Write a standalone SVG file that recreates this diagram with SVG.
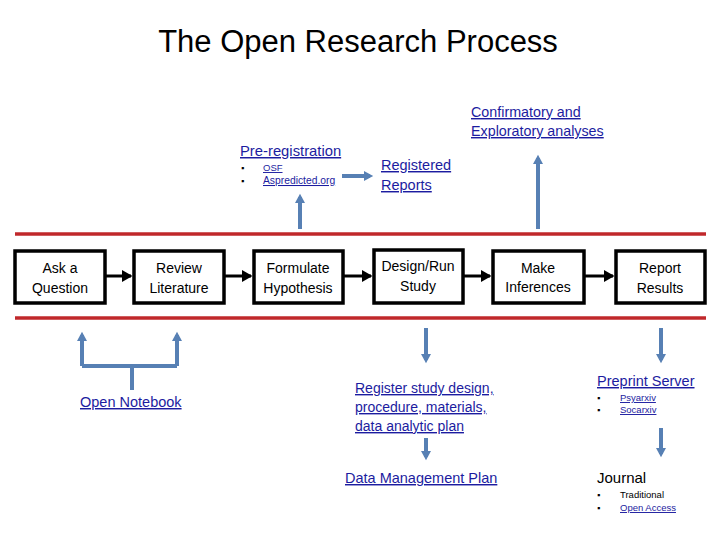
<svg xmlns="http://www.w3.org/2000/svg" width="720" height="540" viewBox="0 0 720 540">
<defs>
<style>
text{font-family:"Liberation Sans","Noto Sans",Arial,sans-serif;}
.box{fill:#fff;stroke:#000;stroke-width:3.5;}
.bt{font-size:14px;fill:#000;text-anchor:middle;}
.lnk{fill:#1c1ca0;text-decoration:underline;}
.blk{fill:#000;}
.red{stroke:#c0282b;stroke-width:3.5;}
.ba{stroke:#000;stroke-width:3;fill:none;marker-end:url(#ah);}
.bl{stroke:#5780b4;stroke-width:4;fill:none;}
.bla{stroke:#5780b4;stroke-width:4;fill:none;marker-end:url(#bh);}
</style>
<marker id="ah" markerWidth="4" markerHeight="4" refX="3" refY="2" orient="auto" markerUnits="strokeWidth"><path d="M0,0 L3.5,2 L0,4 z" fill="#000"/></marker>
<marker id="bh" markerWidth="4" markerHeight="4" refX="1.5" refY="2" orient="auto" markerUnits="strokeWidth"><path d="M0,0.75 L2.3,2 L0,3.25 z" fill="#5780b4"/></marker>
</defs>
<rect width="720" height="540" fill="#fff"/>
<text x="358" y="52" font-size="31" text-anchor="middle" fill="#000">The Open Research Process</text>

<g id="bands">
<line class="red" x1="15" y1="234" x2="706" y2="234"/>
<line class="red" x1="15" y1="318" x2="706" y2="318"/>
</g>

<g id="connectors">
<line class="ba" x1="105" y1="276" x2="131" y2="276"/>
<line class="ba" x1="224" y1="276" x2="251" y2="276"/>
<line class="ba" x1="343" y1="276" x2="371" y2="276"/>
<line class="ba" x1="463" y1="276" x2="490" y2="276"/>
<line class="ba" x1="584" y1="276" x2="613" y2="276"/>
<line class="bla" x1="300" y1="229" x2="300" y2="197"/>
<line class="bla" x1="342" y1="176" x2="370" y2="176"/>
<line class="bla" x1="538" y1="229" x2="538" y2="158"/>
<path class="bl" d="M132,390 V366 M82,366 H177"/>
<line class="bla" x1="82" y1="366" x2="82" y2="335"/>
<line class="bla" x1="177" y1="366" x2="177" y2="335"/>
<line class="bla" x1="426" y1="328" x2="426" y2="360"/>
<line class="bla" x1="661" y1="328" x2="661" y2="360"/>
<line class="bla" x1="426" y1="438" x2="426" y2="457"/>
<line class="bla" x1="661" y1="428" x2="661" y2="454"/>
</g>

<g id="ask"><rect class="box" x="15" y="251" width="90" height="52"/><text class="bt" x="60" y="273">Ask a</text><text class="bt" x="60" y="293">Question</text></g>
<g id="review"><rect class="box" x="134" y="251" width="90" height="52"/><text class="bt" x="179" y="273">Review</text><text class="bt" x="179" y="293">Literature</text></g>
<g id="formulate"><rect class="box" x="254" y="251" width="89" height="52"/><text class="bt" x="298" y="273">Formulate</text><text class="bt" x="298" y="293">Hypothesis</text></g>
<g id="design"><rect class="box" x="374" y="250" width="89" height="53"/><text class="bt" x="418" y="271" font-size="12.5">Design/Run</text><text class="bt" x="418" y="291">Study</text></g>
<g id="infer"><rect class="box" x="493" y="251" width="91" height="52"/><text class="bt" x="538" y="273">Make</text><text class="bt" x="538" y="292">Inferences</text></g>
<g id="report"><rect class="box" x="616" y="251" width="89" height="52"/><text class="bt" x="660" y="273">Report</text><text class="bt" x="660" y="293">Results</text></g>

<g id="prereg">
<text class="lnk" x="240" y="156" font-size="14.8">Pre-registration</text>
<text class="blk" x="241" y="171" font-size="9">▪</text>
<text class="blk" x="241" y="184" font-size="9">▪</text>
<text class="lnk" x="263" y="171" font-size="9.5">OSF</text>
<text class="lnk" x="263" y="184" font-size="10.3">Aspredicted.org</text>
</g>
<g id="registered">
<text class="lnk" x="381" y="170" font-size="14.5">Registered</text>
<text class="lnk" x="381" y="190" font-size="14.5">Reports</text>
</g>
<g id="confirm">
<text class="lnk" x="471" y="117" font-size="14.3">Confirmatory and</text>
<text class="lnk" x="471" y="136" font-size="14.3">Exploratory analyses</text>
</g>
<g id="notebook"><text class="lnk" x="80" y="407" font-size="14.5">Open Notebook</text></g>
<g id="register">
<text class="lnk" x="355" y="393" font-size="14">Register study design,</text>
<text class="lnk" x="355" y="412" font-size="14">procedure, materials,</text>
<text class="lnk" x="355" y="431" font-size="14">data analytic plan</text>
</g>
<g id="dmp"><text class="lnk" x="345" y="483" font-size="14.5">Data Management Plan</text></g>
<g id="preprint">
<text class="lnk" x="597" y="386" font-size="14.5">Preprint Server</text>
<text class="blk" x="597" y="401" font-size="9">▪</text>
<text class="blk" x="597" y="413" font-size="9">▪</text>
<text class="lnk" x="620" y="401" font-size="9.5">Psyarxiv</text>
<text class="lnk" x="620" y="413" font-size="9.5">Socarxiv</text>
</g>
<g id="journal">
<text class="blk" x="597" y="483" font-size="15">Journal</text>
<text class="blk" x="597" y="498" font-size="9">▪</text>
<text class="blk" x="597" y="511" font-size="9">▪</text>
<text class="blk" x="620" y="498" font-size="9.5">Traditional</text>
<text class="lnk" x="620" y="511" font-size="9.5">Open Access</text>
</g>
</svg>
